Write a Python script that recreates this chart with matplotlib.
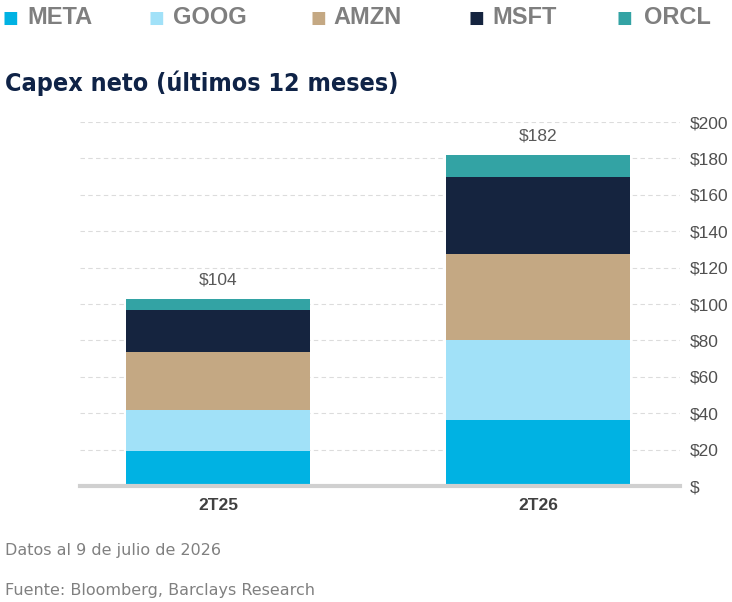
import numpy as np
import matplotlib.pyplot as plt

# datos (miles de millones USD)
periodos = ['2T25', '2T26']
empresas = ['META', 'GOOG', 'AMZN', 'MSFT', 'ORCL']
meta = [19.5, 36.5]
goog = [22, 43.5]
amzn = [32, 47.5]
msft = [23, 42.5]
orcl = [6.5, 12]
totales = [104, 182]
colores = ['#00B2E3', '#A1E1F8', '#C4A883', '#15243F', '#33A3A4']
yticks = [0, 20, 40, 60, 80, 100, 120, 140, 160, 180, 200]

series = [meta, goog, amzn, msft, orcl]

fig = plt.figure(figsize=(7.32, 6.02), dpi=100)
ax = fig.add_axes([80/732, 1-486/602, 600/732, 364/602])

x = np.arange(len(periodos))
base = np.zeros(len(periodos))
for vals, c in zip(series, colores):
    ax.bar(x, vals, bottom=base, width=0.575, color=c, zorder=3)
    base += np.array(vals)

for xi, top, t in zip(x, base, totales):
    ax.annotate('$' + str(t), (xi, top), xytext=(0, 8), textcoords='offset points',
                ha='center', va='bottom', fontsize=12.5, color='#595959',
                family='Liberation Sans')

ax.set_xlim(-0.431, 1.444)
ax.set_ylim(0, 200)
ax.set_yticks(yticks)
ax.set_yticklabels(['$' if v == 0 else '$' + str(v) for v in yticks],
                   fontsize=12.5, color='#505050', family='Liberation Sans')
ax.yaxis.tick_right()
ax.tick_params(axis='y', length=0, pad=7)
ax.set_xticks(x)
ax.set_xticklabels(periodos, fontsize=12.5, fontweight='bold', color='#404040',
                   family='Liberation Sans')
ax.tick_params(axis='x', length=0, pad=9)
ax.grid(axis='y', color='#dcdcdc', linestyle=(0, (4, 3)), linewidth=0.8, zorder=0)
for s in ['top', 'right', 'left']:
    ax.spines[s].set_visible(False)
ax.spines['bottom'].set_color('#d0d0d0')
ax.spines['bottom'].set_linewidth(3)
ax.spines['bottom'].set_zorder(4)

# leyenda manual
pos_cuadro = [2, 149, 310, 468, 616]
pos_texto = [27, 173, 333, 492, 644]
for px, tx, nombre, c in zip(pos_cuadro, pos_texto, empresas, colores):
    fig.text(px/732, 1-18/602, '■', fontsize=12, color=c, va='center', ha='left',
             family='DejaVu Sans')
    fig.text(tx/732, 1-17/602, nombre, fontsize=17, fontweight='bold',
             color='#7f7f7f', va='center', ha='left', family='Liberation Sans')

fig.text(5/732, 1-83/602, 'Capex neto (últimos 12 meses)', fontsize=18,
         fontweight='bold', color='#0F2347', va='center', ha='left',
         family='DejaVu Sans', fontstretch='condensed')

fig.text(5/732, 1-550/602, 'Datos al 9 de julio de 2026', fontsize=11.5,
         color='#808080', va='center', ha='left', family='DejaVu Sans')
fig.text(5/732, 1-590/602, 'Fuente: Bloomberg, Barclays Research', fontsize=11.5,
         color='#808080', va='center', ha='left', family='DejaVu Sans')

fig.savefig('out.png', dpi=100)
